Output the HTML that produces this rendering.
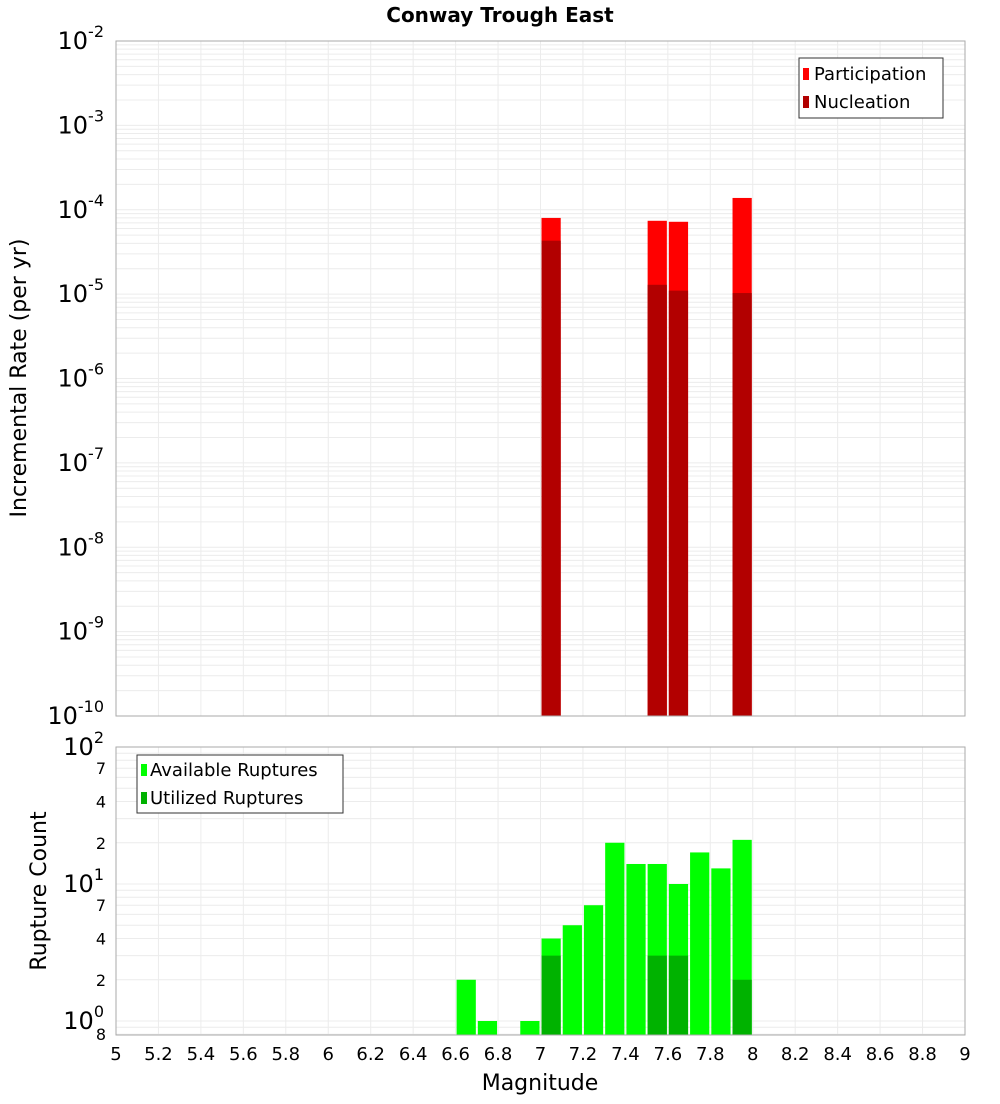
<!DOCTYPE html>
<html><head><meta charset="utf-8"><style>
body{margin:0;background:#fff;font-family:"DejaVu Sans","Liberation Sans",sans-serif}
</style></head><body>
<svg id="c" width="1000" height="1100" xmlns="http://www.w3.org/2000/svg" font-family="DejaVu Sans, Liberation Sans, sans-serif">
<text x="500" y="22" text-anchor="middle" font-size="20" font-weight="bold">Conway Trough East</text>
<g id="topg"></g><g id="botg"></g>
<text transform="translate(26,378) rotate(-90)" text-anchor="middle" font-size="22">Incremental Rate (per yr)</text>
<text transform="translate(46,891) rotate(-90)" text-anchor="middle" font-size="22">Rupture Count</text>
<text x="540" y="1090" text-anchor="middle" font-size="22">Magnitude</text>
</svg>
<script>
const rateMags=[7.0,7.5,7.6,7.9];
const participation=[8.0e-5,7.4e-5,7.2e-5,1.38e-4];
const nucleation=[4.3e-5,1.29e-5,1.1e-5,1.03e-5];
const countMags=[6.6,6.7,6.9,7.0,7.1,7.2,7.3,7.4,7.5,7.6,7.7,7.8,7.9];
const available=[2,1,1,4,5,7,20,14,14,10,17,13,21];
const utilMags=[7.0,7.5,7.6,7.9];
const utilized=[3,3,3,2];
const xTicks=[5,5.2,5.4,5.6,5.8,6,6.2,6.4,6.6,6.8,7,7.2,7.4,7.6,7.8,8,8.2,8.4,8.6,8.8,9];

const NS="http://www.w3.org/2000/svg";
const X0=116,X1=965;
const xs=m=>X0+(m-5)/4*(X1-X0);
const yT=v=>41+(-2-Math.log10(v))*(716-41)/8;
const yB=v=>747+(2-Math.log10(v))*137;
function mk(p,tg,a){const e=document.createElementNS(NS,tg);for(const k in a)e.setAttribute(k,a[k]);p.appendChild(e);return e;}
const gTop=document.getElementById('topg'),gBot=document.getElementById('botg');
mk(gTop,'rect',{x:X0,y:41,width:X1-X0,height:675,fill:'#fff',stroke:'none'});
for(let d=-10;d<-2;d++)for(let k=1;k<10;k++){const yy=yT(k*Math.pow(10,d));const l=mk(gTop,'line',{x1:X0,x2:X1,y1:yy,y2:yy,stroke:'#ececec','stroke-width':1});}
xTicks.forEach(v=>{mk(gTop,'line',{x1:xs(v),x2:xs(v),y1:41,y2:716,stroke:'#ececec'});mk(gBot,'line',{x1:xs(v),x2:xs(v),y1:747,y2:1035,stroke:'#ececec'});});
for(let d=-1;d<2;d++)for(let k=1;k<10;k++){const v=k*Math.pow(10,d);if(v<0.8)continue;const yy=yB(v);mk(gBot,'line',{x1:X0,x2:X1,y1:yy,y2:yy,stroke:'#ececec'});}
rateMags.forEach((m,i)=>{
 const b=mk(gTop,'rect',{x:xs(m)+1,y:yT(participation[i]),width:xs(m+0.1)-xs(m)-2,height:716-yT(participation[i]),fill:'#ff0000'});
 
 
 const n=mk(gTop,'rect',{x:xs(m)+1,y:yT(nucleation[i]),width:xs(m+0.1)-xs(m)-2,height:716-yT(nucleation[i]),fill:'#b20000'});
 
 
});
mk(gTop,'rect',{x:X0,y:41,width:X1-X0,height:675,fill:'none',stroke:'#aaa'});
for(let d=-10;d<=-2;d++){const te=mk(gTop,'text',{x:104,y:yT(Math.pow(10,d))+8,'text-anchor':'end','font-size':24});te.textContent='10';const s=mk(te,'tspan',{dy:-12,'font-size':16});s.textContent=String(d);}
const lg=mk(gTop,'g',{});


mk(lg,'rect',{x:799,y:58,width:144,height:60,fill:'#fff',stroke:'#333'});
mk(lg,'rect',{x:803,y:68,width:6,height:12,fill:'#ff0000'});
mk(lg,'rect',{x:803,y:96,width:6,height:12,fill:'#b20000'});
let tx=mk(lg,'text',{x:814,y:80,'font-size':18});tx.textContent='Participation';
tx=mk(lg,'text',{x:814,y:108,'font-size':18});tx.textContent='Nucleation';
available.forEach((v,i)=>{const m=countMags[i];const b=mk(gBot,'rect',{x:xs(m)+1,y:yB(v),width:xs(m+0.1)-xs(m)-2,height:1035-yB(v),fill:'#00ff00'});});
utilized.forEach((v,i)=>{const m=utilMags[i];const b=mk(gBot,'rect',{x:xs(m)+1,y:yB(v),width:xs(m+0.1)-xs(m)-2,height:1035-yB(v),fill:'#00b200'});});
mk(gBot,'rect',{x:X0,y:747,width:X1-X0,height:288,fill:'none',stroke:'#aaa'});
[[100,'10','2'],[10,'10','1'],[1,'10','0']].forEach(a=>{const te=mk(gBot,'text',{x:104,y:yB(a[0])+8,'text-anchor':'end','font-size':24});te.textContent=a[1];const s=mk(te,'tspan',{dy:-12,'font-size':16});s.textContent=a[2];});
[70,40,20,7,4,2].forEach(v=>{const te=mk(gBot,'text',{x:106,y:yB(v)+6,'text-anchor':'end','font-size':16});te.textContent=String(v).charAt(0);});
tx=mk(gBot,'text',{x:106,y:1040,'text-anchor':'end','font-size':16});tx.textContent='8';
xTicks.forEach(v=>{const te=mk(gBot,'text',{x:xs(v),y:1060,'text-anchor':'middle','font-size':18});te.textContent=String(v);});
const lb=mk(gBot,'g',{});


mk(lb,'rect',{x:137,y:755,width:206,height:58,fill:'#fff',stroke:'#333'});
mk(lb,'rect',{x:141,y:764,width:6,height:12,fill:'#00ff00'});
mk(lb,'rect',{x:141,y:792,width:6,height:12,fill:'#00b200'});
tx=mk(lb,'text',{x:150,y:776,'font-size':18});tx.textContent='Available Ruptures';
tx=mk(lb,'text',{x:150,y:804,'font-size':18});tx.textContent='Utilized Ruptures';
</script>
</body></html>
